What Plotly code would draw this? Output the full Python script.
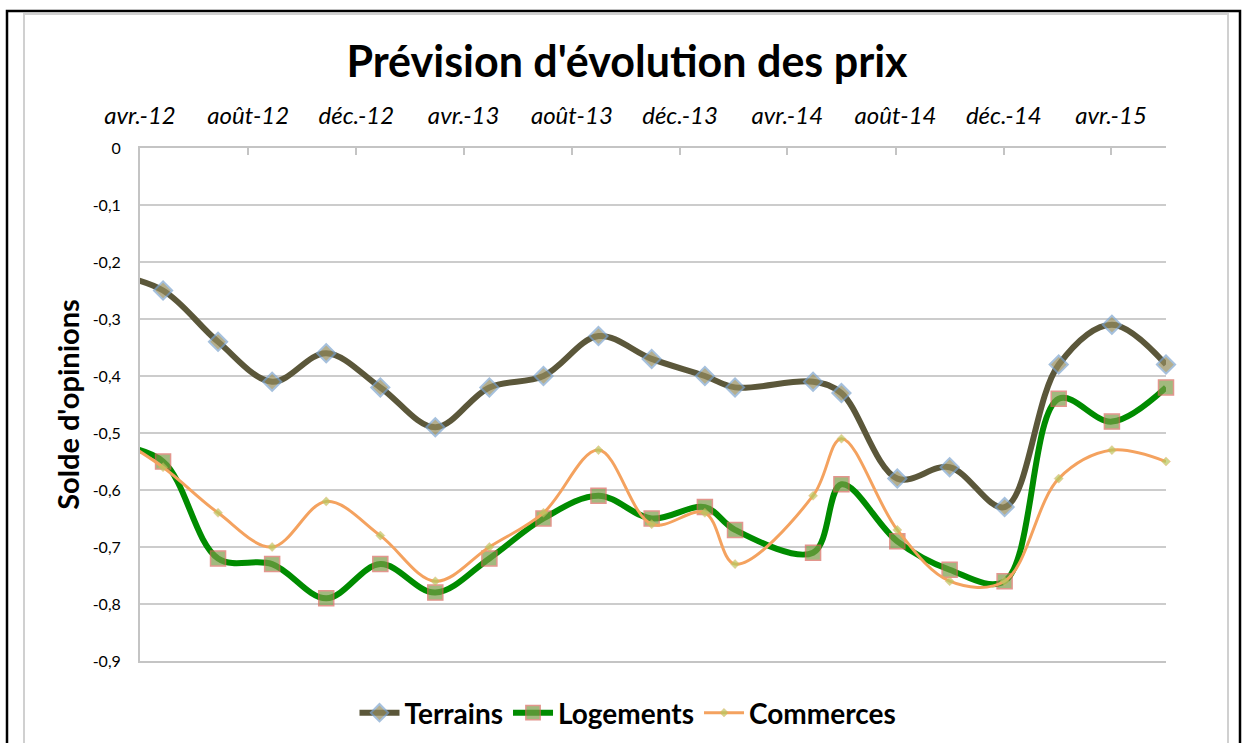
import plotly.graph_objects as go

# ---- data ----
dates = ["2012-02-27", "2012-04-27", "2012-06-28", "2012-08-28", "2012-10-28", "2012-12-28",
         "2013-02-28", "2013-04-30", "2013-06-30", "2013-08-31", "2013-10-30", "2013-12-29",
         "2014-02-01", "2014-04-30", "2014-06-01", "2014-08-03", "2014-10-01", "2014-12-02",
         "2015-02-01", "2015-04-02", "2015-06-02"]
terrains = [-0.22, -0.25, -0.34, -0.41, -0.36, -0.42, -0.49, -0.42, -0.40, -0.33, -0.37, -0.40,
            -0.42, -0.41, -0.43, -0.58, -0.56, -0.63, -0.38, -0.31, -0.38]
logements = [-0.52, -0.55, -0.72, -0.73, -0.79, -0.73, -0.78, -0.72, -0.65, -0.61, -0.65, -0.63,
             -0.67, -0.71, -0.59, -0.69, -0.74, -0.76, -0.44, -0.48, -0.42]
commerces = [-0.50, -0.56, -0.64, -0.70, -0.62, -0.68, -0.76, -0.70, -0.64, -0.53, -0.66, -0.64,
             -0.73, -0.61, -0.51, -0.67, -0.76, -0.76, -0.58, -0.53, -0.55]

x_tick_vals = ["2012-04-01", "2012-08-01", "2012-12-01", "2013-04-01", "2013-08-01", "2013-12-01",
               "2014-04-01", "2014-08-01", "2014-12-01", "2015-04-01"]
x_tick_text = ["avr.-12", "août-12", "déc.-12", "avr.-13", "août-13", "déc.-13",
               "avr.-14", "août-14", "déc.-14", "avr.-15"]
y_tick_vals = [0, -0.1, -0.2, -0.3, -0.4, -0.5, -0.6, -0.7, -0.8, -0.9]
y_tick_text = ["0", "-0,1", "-0,2", "-0,3", "-0,4", "-0,5", "-0,6", "-0,7", "-0,8", "-0,9"]
x_range = ["2012-04-01", "2015-06-02"]

FONT = "Lato"
W, H = 1245, 743
L, R, T, B = 140, 1166, 148, 661


def sizes(s):
    # first point lies before the visible axis start: no marker drawn
    return [0] + [s] * (len(dates) - 1)


fig = go.Figure()
fig.add_trace(go.Scatter(
    x=dates, y=terrains, name="Terrains", mode="lines+markers",
    line=dict(color="#5b573a", width=6, shape="spline", smoothing=1.0),
    marker=dict(symbol="diamond", size=sizes(14), color="#958c5e",
                line=dict(color="#7fa6cf", width=2)),
    cliponaxis=False))
fig.add_trace(go.Scatter(
    x=dates, y=logements, name="Logements", mode="lines+markers",
    line=dict(color="#008c00", width=6, shape="spline", smoothing=1.0),
    marker=dict(symbol="square", size=sizes(15), color="#7b9c48",
                line=dict(color="#d86a5e", width=1.5)),
    cliponaxis=False))
fig.add_trace(go.Scatter(
    x=dates, y=commerces, name="Commerces", mode="lines+markers",
    line=dict(color="#f4a25f", width=3, shape="spline", smoothing=1.0),
    marker=dict(symbol="diamond", size=sizes(7), color="#b8c860",
                line=dict(color="#f4a25f", width=0.5)),
    cliponaxis=False))


def px(xp):
    return (xp - L) / (R - L)


def py(yp):
    return (B - yp) / (B - T)


shapes = [
    dict(type="rect", xref="paper", yref="paper", x0=px(7), x1=px(1240), y0=py(760), y1=py(11),
         line=dict(color="black", width=2.5), fillcolor="rgba(0,0,0,0)", layer="below"),
    dict(type="rect", xref="paper", yref="paper", x0=px(24), x1=px(1228), y0=py(760), y1=py(14),
         line=dict(color="#d0d0d0", width=2), fillcolor="rgba(0,0,0,0)", layer="below"),
]

fig.update_layout(
    width=W, height=H,
    margin=dict(l=L, r=W - R, t=T, b=H - B, autoexpand=False),
    paper_bgcolor="white", plot_bgcolor="white",
    font=dict(family=FONT, color="black"),
    title=dict(text="<b>Prévision d'évolution des prix</b>", x=627 / W, xref="container",
               xanchor="center", y=1 - 62 / H, yanchor="middle",
               font=dict(family=FONT, size=43, color="black")),
    xaxis=dict(type="date", range=x_range, side="top",
               tickvals=x_tick_vals, ticktext=x_tick_text,
               tickfont=dict(family=FONT, size=24, style="italic", color="black"),
               ticks="inside", ticklen=7, tickwidth=2, tickcolor="#c4c4c4",
               showline=True, linecolor="#c4c4c4", linewidth=2, mirror=True,
               showgrid=False, zeroline=False, ticklabelstandoff=12),
    yaxis=dict(range=[-0.9, 0], tickvals=y_tick_vals, ticktext=y_tick_text,
               tickfont=dict(family=FONT, size=16, color="black"),
               showgrid=True, gridcolor="#cccccc", gridwidth=2,
               showline=True, linecolor="#c4c4c4", linewidth=2,
               zeroline=False, ticks="", ticklabelstandoff=14,
               title=dict(text="<b>Solde d'opinions</b>", standoff=5,
                          font=dict(family=FONT, size=29, color="black"))),
    legend=dict(orientation="h", x=px(628), xanchor="center", y=py(713), yanchor="middle",
                font=dict(family=FONT, size=28, color="black", weight="bold"), itemwidth=40,
                traceorder="normal", bgcolor="rgba(0,0,0,0)"),
    shapes=shapes,
    showlegend=True,
)

fig.write_html("out.html", config={"displayModeBar": False},
               post_script="document.body.style.margin='0';document.body.style.overflow='hidden';")
